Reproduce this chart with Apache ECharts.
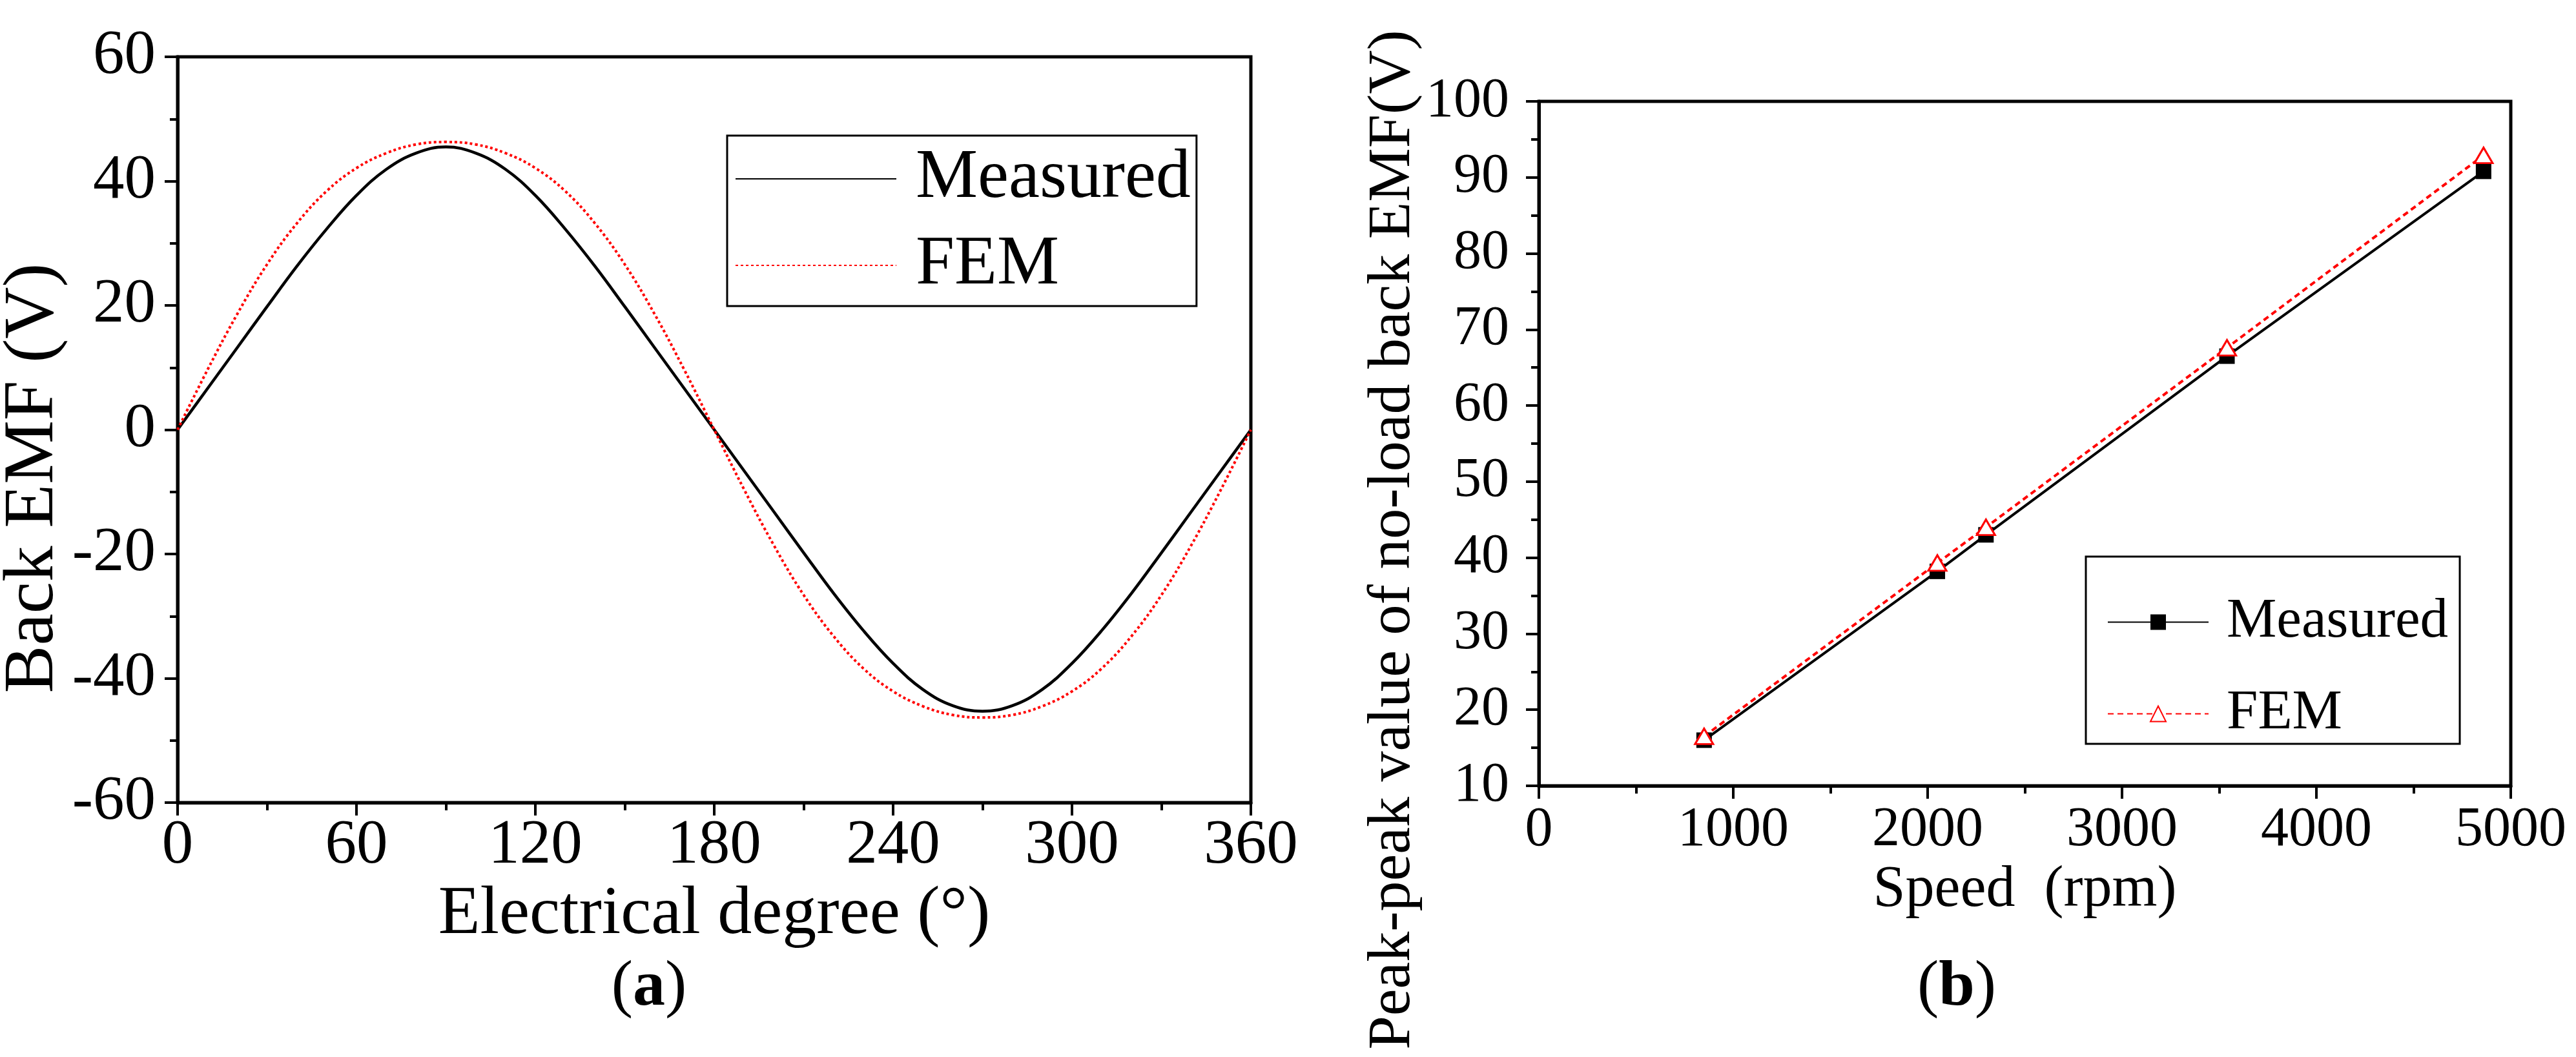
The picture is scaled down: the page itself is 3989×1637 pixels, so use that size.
<!DOCTYPE html>
<html><head><meta charset="utf-8">
<script src="https://cdn.jsdelivr.net/npm/echarts@6/dist/echarts.min.js"></script>
<style>html,body{margin:0;padding:0;background:#fff}#c{width:3989px;height:1637px}</style>
</head><body><div id="c"></div>
<script>
// ---- Panel (a): back EMF waveform ----
const degrees = [0,10,20,30,40,50,60,70,80,90,100,110,120,130,140,150,160,170,180,190,200,210,220,230,240,250,260,270,280,290,300,310,320,330,340,350,360];
const measuredEmf = [0,6.6,13.2,19.8,26.3,32.3,37.7,41.9,44.5,45.5,44.5,41.9,37.7,32.3,26.3,19.8,13.2,6.6,0,-6.6,-13.2,-19.8,-26.3,-32.3,-37.6,-41.8,-44.4,-45.3,-44.4,-41.8,-37.6,-32.3,-26.3,-19.8,-13.2,-6.6,0];
const femEmf = [0,9.6,18.6,26.6,33.2,38.4,42.1,44.5,45.9,46.3,45.9,44.5,42.1,38.4,33.2,26.6,18.6,9.6,0,-9.6,-18.6,-26.6,-33.2,-38.4,-42.1,-44.5,-45.9,-46.3,-45.9,-44.5,-42.1,-38.4,-33.2,-26.6,-18.6,-9.6,0];
// ---- Panel (b): peak-peak back EMF vs speed ----
const speeds = [850, 2050, 2300, 3540, 4860];
const measuredPP = [16.0, 38.2, 43.0, 66.5, 90.8];
const femPP = [16.5, 39.3, 44.0, 67.6, 92.9];
// labels
const seriesNames = ['Measured', 'FEM'];
const panelLabels = ['a', 'b'];

const FONT = "'Liberation Serif', 'Times New Roman', Times, serif";
const zip = (xs, ys) => xs.map((x, i) => [x, ys[i]]);

function axisCommon(fontSize, margin) {
  return {
    axisLine: { show: true, onZero: false, lineStyle: { color: '#000', width: 5 } },
    axisTick: { show: true, inside: false, length: 20, lineStyle: { color: '#000', width: 4 } },
    minorTick: { show: true, splitNumber: 2, length: 12, lineStyle: { color: '#000', width: 4 } },
    splitLine: { show: false },
    minorSplitLine: { show: false },
    axisLabel: { color: '#000', fontFamily: FONT, fontSize: fontSize, margin: margin, formatter: v => String(v) }
  };
}

const chart = echarts.init(document.getElementById('c'), null, { renderer: 'canvas' });
chart.setOption({
  animation: false,
  backgroundColor: '#fff',
  grid: [
    { left: 275, top: 88, width: 1662, height: 1155, show: true, borderColor: '#000', borderWidth: 5, containLabel: false, outerBoundsMode: 'none' },
    { left: 2383, top: 157, width: 1505, height: 1060, show: true, borderColor: '#000', borderWidth: 5, containLabel: false, outerBoundsMode: 'none' }
  ],
  xAxis: [
    Object.assign(axisCommon(97, 19), {
      type: 'value', gridIndex: 0, min: 0, max: 360, interval: 60,
      name: 'Electrical degree (°)', nameLocation: 'middle', nameGap: 112,
      nameTextStyle: { color: '#000', fontFamily: FONT, fontSize: 106 }
    }),
    Object.assign(axisCommon(86, 26), {
      type: 'value', gridIndex: 1, min: 0, max: 5000, interval: 1000,
      name: 'Speed  (rpm)', nameLocation: 'middle', nameGap: 114,
      nameTextStyle: { color: '#000', fontFamily: FONT, fontSize: 90 }
    })
  ],
  yAxis: [
    Object.assign(axisCommon(97, 34), {
      type: 'value', gridIndex: 0, min: -60, max: 60, interval: 20,
      name: 'Back EMF (V)', nameLocation: 'middle', nameGap: 162,
      nameTextStyle: { color: '#000', fontFamily: FONT, fontSize: 111, padding: [0, 150, 0, 0] }
    }),
    Object.assign(axisCommon(86, 46), {
      type: 'value', gridIndex: 1, min: 10, max: 100, interval: 10,
      name: 'Peak-peak value of no-load back EMF(V)', nameLocation: 'middle', nameGap: 178,
      nameTextStyle: { color: '#000', fontFamily: FONT, fontSize: 94, padding: [0, 298, 0, 0] }
    })
  ],
  legend: [
    {
      orient: 'vertical', left: 1126, top: 210,
      data: [seriesNames[0], seriesNames[1]],
      itemWidth: 249, itemHeight: 30, itemGap: 26,
      padding: [13, 9, 9, 12],
      borderColor: '#000', borderWidth: 3, backgroundColor: '#fff',
      selectedMode: false,
      itemStyle: { opacity: 0 },
      textStyle: { color: '#000', fontFamily: FONT, fontSize: 108, lineHeight: 108, padding: [0, 0, 0, 25] }
    },
    {
      orient: 'vertical', left: 3230, top: 862,
      data: [seriesNames[0] + '_b', seriesNames[1] + '_b'],
      formatter: n => n.replace('_b', ''),
      itemWidth: 156, itemHeight: 30, itemGap: 55,
      padding: [58, 18, 3, 33],
      borderColor: '#000', borderWidth: 3, backgroundColor: '#fff',
      selectedMode: false,
      textStyle: { color: '#000', fontFamily: FONT, fontSize: 87, lineHeight: 87, padding: [0, 0, 0, 23] }
    }
  ],
  series: [
    {
      type: 'line', name: seriesNames[0], xAxisIndex: 0, yAxisIndex: 0,
      data: zip(degrees, measuredEmf), symbol: 'none', showSymbol: false, smooth: 0.4,
      lineStyle: { color: '#000', width: 4.5 }, itemStyle: { color: '#000' }
    },
    {
      type: 'line', name: seriesNames[1], xAxisIndex: 0, yAxisIndex: 0,
      data: zip(degrees, femEmf), symbol: 'none', showSymbol: false, smooth: 0.4,
      lineStyle: { color: '#ff0000', width: 4, type: [4, 4] }, itemStyle: { color: '#ff0000' }
    },
    {
      type: 'line', name: seriesNames[0] + '_b', xAxisIndex: 1, yAxisIndex: 1,
      data: zip(speeds, measuredPP), symbol: 'rect', symbolSize: 24,
      lineStyle: { color: '#000', width: 4 }, itemStyle: { color: '#000' }
    },
    {
      type: 'line', name: seriesNames[1] + '_b', xAxisIndex: 1, yAxisIndex: 1,
      data: zip(speeds, femPP), symbol: 'triangle', symbolSize: [28, 24],
      lineStyle: { color: '#ff0000', width: 4, type: [9, 6] },
      itemStyle: { color: '#fff', borderColor: '#ff0000', borderWidth: 3 }
    }
  ],
  graphic: [
    {
      type: 'text', x: 1005, y: 1530,
      style: { text: '({b|' + panelLabels[0] + '})', fill: '#000', fontFamily: FONT, fontSize: 100, align: 'center', verticalAlign: 'middle',
        rich: { b: { fontWeight: 'bold', fontFamily: FONT, fontSize: 100, fill: '#000' } } }
    },
    {
      type: 'text', x: 3030, y: 1530,
      style: { text: '({b|' + panelLabels[1] + '})', fill: '#000', fontFamily: FONT, fontSize: 100, align: 'center', verticalAlign: 'middle',
        rich: { b: { fontWeight: 'bold', fontFamily: FONT, fontSize: 100, fill: '#000' } } }
    }
  ]
});
</script>
</body></html>
